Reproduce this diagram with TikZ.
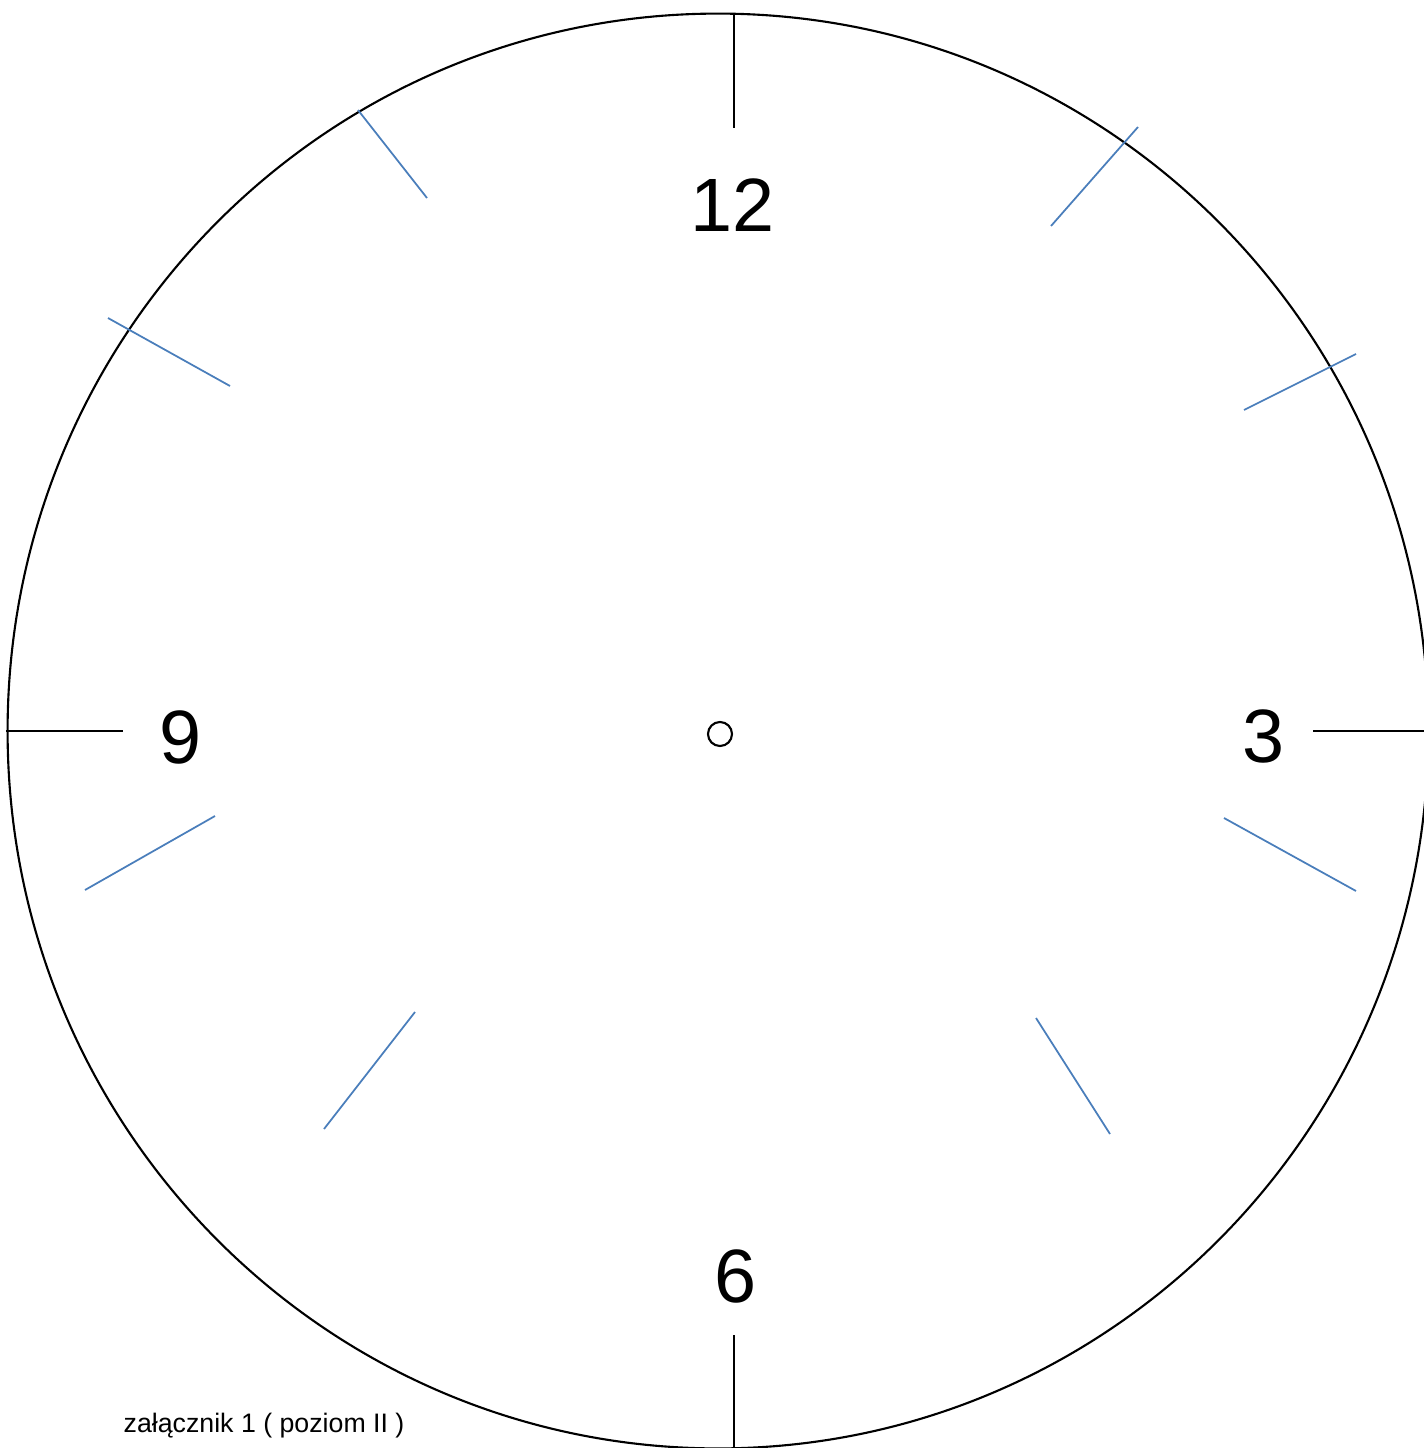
\documentclass[tikz,border=0pt]{standalone}
\usepackage{fontspec}
\setmainfont{Liberation Sans}
\usetikzlibrary{positioning}
\definecolor{tickblue}{HTML}{4A7EBB}
\tikzset{
    rim/.style={line width=0.6pt, draw=black}, % the dial outline
    hourtick/.style={line width=0.6pt, draw=black},
    minortick/.style={line width=0.5pt, draw=tickblue},
    numeral/.style={font=\fontsize{21.5}{26}\selectfont, inner sep=0pt},
    hub/.style={circle, draw, line width=0.6pt, minimum size=0.24cm, inner sep=0pt}
}

\begin{document}
\begin{tikzpicture}[x=0.01cm,y=-0.01cm]
    \useasboundingbox (0,0) rectangle (1424,1448);
    \begin{scope}
        \clip (0,0) rectangle (1424,1448);
        \draw[rim] (718,731) ellipse [x radius=7.10cm, y radius=7.17cm];

        % hour ticks
        \draw[hourtick] (734,14) -- (734,128);
        \draw[hourtick] (734,1335) -- (734,1450);
        \draw[hourtick] (6,731) -- (123,731);
        \draw[hourtick] (1313,731) -- (1426,731);

        % other ticks
        \draw[minortick] (358,110) -- (427,198);
        \draw[minortick] (1138,127) -- (1051,226);
        \draw[minortick] (108,318) -- (230,386);
        \draw[minortick] (1356,354) -- (1244,410);
        \draw[minortick] (215,816) -- (85,890);
        \draw[minortick] (1224,818) -- (1356,891);
        \draw[minortick] (415,1012) -- (324,1129);
        \draw[minortick] (1036,1018) -- (1110,1134);
    \end{scope}

    \node[hub] (center) at (720,734) {};

    \node[numeral] (n12) at (733,205) {12};
    \node[numeral] (n3) at (1264,736) {3};
    \node[numeral] (n6) at (736,1276) {6};
    \node[numeral] (n9) at (181,737) {9};

    \node[anchor=base west, inner sep=0pt, font=\fontsize{7.6}{9}\selectfont] (caption) at (123,1432) {załącznik 1 ( poziom II )};

\end{tikzpicture}
\end{document}
